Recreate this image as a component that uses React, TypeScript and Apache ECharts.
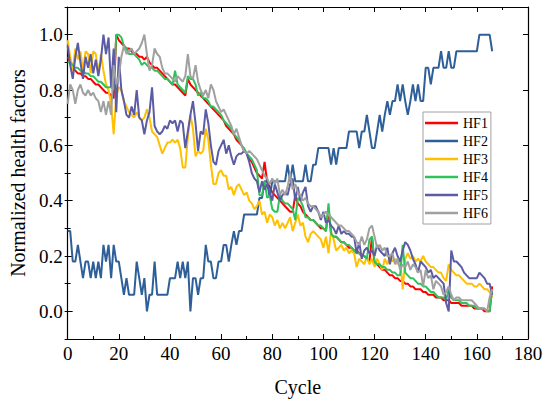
import React, { useEffect, useRef } from "react";
import * as echarts from "echarts";

// Normalized health factors, one value per cycle (cycle = index, 0..166)
const HF1 = [
  0.92, 0.90, 0.88, 0.87, 0.86, 0.86, 0.85, 0.85, 0.84, 0.84,
  0.83, 0.82, 0.82, 0.81, 0.80, 0.79, 0.79, 0.78, 0.77, 1.00,
  0.98, 0.97, 0.96, 0.95, 0.95, 0.94, 0.93, 0.93, 0.92, 0.92,
  0.91, 0.92, 0.90, 0.89, 0.88, 0.88, 0.87, 0.86, 0.85, 0.84,
  0.83, 0.82, 0.82, 0.81, 0.80, 0.79, 0.78, 0.84, 0.82, 0.81,
  0.80, 0.79, 0.78, 0.77, 0.76, 0.75, 0.74, 0.73, 0.72, 0.71,
  0.70, 0.69, 0.67, 0.66, 0.65, 0.64, 0.62, 0.61, 0.60, 0.58,
  0.57, 0.55, 0.54, 0.52, 0.50, 0.49, 0.48, 0.54, 0.47, 0.45,
  0.43, 0.42, 0.41, 0.40, 0.39, 0.38, 0.37, 0.36, 0.36, 0.42,
  0.39, 0.38, 0.36, 0.35, 0.34, 0.33, 0.33, 0.32, 0.31, 0.30,
  0.30, 0.29, 0.37, 0.28, 0.27, 0.27, 0.26, 0.25, 0.25, 0.24,
  0.23, 0.23, 0.22, 0.22, 0.21, 0.20, 0.20, 0.19, 0.18, 0.27,
  0.17, 0.17, 0.16, 0.15, 0.15, 0.14, 0.13, 0.13, 0.12, 0.12,
  0.11, 0.11, 0.10, 0.10, 0.09, 0.09, 0.08, 0.08, 0.08, 0.07,
  0.07, 0.06, 0.06, 0.06, 0.05, 0.05, 0.05, 0.04, 0.04, 0.04,
  0.03, 0.03, 0.03, 0.03, 0.02, 0.02, 0.02, 0.02, 0.02, 0.01,
  0.01, 0.01, 0.01, 0.00, 0.00, 0.00, 0.09,
];

const HF2 = [
  0.29, 0.29, 0.18, 0.18, 0.24, 0.18, 0.12, 0.18, 0.18, 0.12,
  0.18, 0.12, 0.18, 0.12, 0.24, 0.18, 0.24, 0.12, 0.24, 0.18,
  0.18, 0.12, 0.06, 0.12, 0.06, 0.06, 0.06, 0.18, 0.12, 0.06,
  0.12, 0.00, 0.06, 0.06, 0.18, 0.06, 0.06, 0.06, 0.06, 0.06,
  0.12, 0.12, 0.12, 0.18, 0.12, 0.18, 0.12, 0.18, 0.00, 0.12,
  0.12, 0.06, 0.12, 0.12, 0.24, 0.18, 0.18, 0.12, 0.12, 0.18,
  0.18, 0.24, 0.24, 0.18, 0.24, 0.29, 0.24, 0.29, 0.29, 0.35,
  0.35, 0.35, 0.35, 0.35, 0.35, 0.41, 0.41, 0.47, 0.47, 0.41,
  0.47, 0.47, 0.47, 0.47, 0.47, 0.47, 0.53, 0.47, 0.53, 0.47,
  0.47, 0.47, 0.47, 0.53, 0.47, 0.47, 0.53, 0.53, 0.59, 0.59,
  0.59, 0.59, 0.59, 0.53, 0.59, 0.53, 0.59, 0.59, 0.59, 0.59,
  0.65, 0.65, 0.65, 0.65, 0.59, 0.65, 0.65, 0.71, 0.65, 0.59,
  0.59, 0.65, 0.71, 0.65, 0.71, 0.76, 0.71, 0.76, 0.76, 0.82,
  0.76, 0.82, 0.76, 0.71, 0.76, 0.82, 0.76, 0.82, 0.76, 0.76,
  0.88, 0.88, 0.82, 0.88, 0.88, 0.88, 0.94, 0.88, 0.88, 0.94,
  0.88, 0.88, 0.94, 0.94, 0.94, 0.94, 0.94, 0.94, 0.94, 0.94,
  0.94, 1.00, 1.00, 1.00, 1.00, 1.00, 0.94,
];

const HF3 = [
  0.98, 0.92, 0.87, 0.95, 0.91, 0.94, 0.87, 0.94, 0.93, 0.86,
  0.94, 0.93, 0.86, 0.93, 0.87, 0.82, 0.80, 0.75, 0.64, 0.78,
  0.81, 0.80, 0.76, 0.74, 0.72, 0.71, 0.70, 0.72, 0.70, 0.69,
  0.70, 0.73, 0.70, 0.65, 0.64, 0.63, 0.60, 0.57, 0.59, 0.61,
  0.61, 0.62, 0.61, 0.62, 0.59, 0.52, 0.52, 0.63, 0.71, 0.66,
  0.56, 0.58, 0.57, 0.58, 0.66, 0.62, 0.53, 0.46, 0.46, 0.50,
  0.51, 0.49, 0.49, 0.44, 0.45, 0.42, 0.45, 0.46, 0.44, 0.42,
  0.43, 0.40, 0.39, 0.37, 0.38, 0.40, 0.35, 0.36, 0.32, 0.35,
  0.34, 0.31, 0.33, 0.30, 0.32, 0.30, 0.32, 0.34, 0.29, 0.32,
  0.35, 0.31, 0.32, 0.27, 0.25, 0.28, 0.29, 0.28, 0.27, 0.26,
  0.23, 0.27, 0.21, 0.29, 0.26, 0.22, 0.23, 0.24, 0.22, 0.23,
  0.21, 0.22, 0.21, 0.16, 0.19, 0.18, 0.17, 0.20, 0.17, 0.19,
  0.16, 0.19, 0.17, 0.15, 0.19, 0.17, 0.20, 0.18, 0.19, 0.17,
  0.19, 0.08, 0.19, 0.21, 0.19, 0.20, 0.18, 0.19, 0.18, 0.20,
  0.18, 0.17, 0.16, 0.16, 0.15, 0.14, 0.14, 0.12, 0.11, 0.17,
  0.15, 0.14, 0.13, 0.13, 0.12, 0.11, 0.10, 0.10, 0.10, 0.09,
  0.09, 0.10, 0.09, 0.08, 0.08, 0.07, 0.05,
];

const HF4 = [
  0.90, 0.90, 0.89, 0.88, 0.88, 0.87, 0.87, 0.86, 0.86, 0.85,
  0.85, 0.84, 0.83, 0.83, 0.82, 0.81, 0.81, 0.81, 0.80, 1.00,
  1.00, 0.99, 0.96, 0.95, 0.93, 0.93, 0.93, 0.92, 0.91, 0.89,
  0.90, 0.89, 0.88, 0.88, 0.87, 0.87, 0.86, 0.85, 0.84, 0.84,
  0.83, 0.82, 0.87, 0.82, 0.81, 0.80, 0.79, 0.85, 0.84, 0.84,
  0.82, 0.78, 0.79, 0.77, 0.77, 0.76, 0.74, 0.74, 0.73, 0.72,
  0.71, 0.69, 0.68, 0.67, 0.66, 0.64, 0.63, 0.62, 0.60, 0.59,
  0.57, 0.56, 0.55, 0.53, 0.51, 0.42, 0.42, 0.47, 0.41, 0.42,
  0.37, 0.36, 0.36, 0.42, 0.40, 0.39, 0.39, 0.38, 0.37, 0.33,
  0.41, 0.40, 0.38, 0.34, 0.34, 0.33, 0.33, 0.32, 0.31, 0.31,
  0.30, 0.29, 0.39, 0.28, 0.27, 0.27, 0.26, 0.25, 0.25, 0.24,
  0.24, 0.23, 0.22, 0.21, 0.21, 0.20, 0.20, 0.19, 0.26, 0.27,
  0.18, 0.17, 0.17, 0.16, 0.16, 0.15, 0.15, 0.14, 0.14, 0.13,
  0.13, 0.24, 0.14, 0.13, 0.12, 0.12, 0.11, 0.10, 0.10, 0.09,
  0.09, 0.08, 0.07, 0.07, 0.06, 0.05, 0.05, 0.05, 0.04, 0.08,
  0.05, 0.04, 0.04, 0.04, 0.03, 0.03, 0.03, 0.02, 0.02, 0.02,
  0.01, 0.01, 0.01, 0.01, 0.00, 0.00, 0.08,
];

const HF5 = [
  0.96, 0.89, 0.84, 0.92, 0.97, 0.90, 0.84, 0.92, 0.88, 0.93,
  0.86, 0.91, 0.85, 0.91, 1.00, 0.93, 0.99, 0.81, 0.95, 0.72,
  0.92, 0.80, 0.76, 0.71, 0.70, 0.74, 0.71, 0.80, 0.70, 0.69,
  0.64, 0.69, 0.72, 0.81, 0.67, 0.65, 0.64, 0.65, 0.67, 0.66,
  0.69, 0.68, 0.69, 0.65, 0.69, 0.68, 0.59, 0.65, 0.71, 0.76,
  0.68, 0.58, 0.65, 0.64, 0.73, 0.68, 0.60, 0.54, 0.53, 0.58,
  0.60, 0.62, 0.57, 0.60, 0.56, 0.53, 0.56, 0.57, 0.57, 0.58,
  0.57, 0.54, 0.50, 0.48, 0.47, 0.43, 0.47, 0.44, 0.46, 0.43,
  0.40, 0.46, 0.43, 0.40, 0.42, 0.43, 0.42, 0.46, 0.48, 0.40,
  0.45, 0.40, 0.43, 0.45, 0.38, 0.36, 0.38, 0.38, 0.36, 0.33,
  0.36, 0.32, 0.33, 0.31, 0.30, 0.28, 0.31, 0.28, 0.29, 0.28,
  0.28, 0.27, 0.27, 0.21, 0.25, 0.19, 0.22, 0.23, 0.21, 0.22,
  0.20, 0.24, 0.22, 0.21, 0.20, 0.23, 0.17, 0.21, 0.23, 0.20,
  0.18, 0.22, 0.25, 0.24, 0.22, 0.19, 0.17, 0.14, 0.18, 0.17,
  0.16, 0.14, 0.15, 0.12, 0.13, 0.12, 0.11, 0.10, 0.03, 0.00,
  0.22, 0.18, 0.18, 0.17, 0.16, 0.14, 0.13, 0.12, 0.12, 0.12,
  0.12, 0.14, 0.13, 0.12, 0.10, 0.10, 0.06,
];

const HF6 = [
  0.75, 0.82, 0.80, 0.75, 0.80, 0.82, 0.79, 0.78, 0.80, 0.78,
  0.79, 0.77, 0.76, 0.72, 0.76, 0.71, 0.76, 0.71, 0.89, 0.82,
  0.85, 0.92, 0.96, 0.93, 0.94, 0.95, 0.93, 0.94, 0.95, 0.97,
  1.00, 0.93, 0.87, 0.89, 0.95, 0.93, 0.92, 0.88, 0.86, 0.86,
  0.85, 0.84, 0.83, 0.85, 0.84, 0.83, 0.85, 0.93, 0.85, 0.84,
  0.89, 0.83, 0.80, 0.78, 0.80, 0.77, 0.82, 0.80, 0.76, 0.74,
  0.72, 0.73, 0.71, 0.69, 0.67, 0.64, 0.66, 0.63, 0.60, 0.58,
  0.57, 0.58, 0.57, 0.56, 0.55, 0.53, 0.51, 0.49, 0.48, 0.46,
  0.48, 0.46, 0.48, 0.42, 0.44, 0.42, 0.45, 0.50, 0.44, 0.46,
  0.43, 0.42, 0.40, 0.41, 0.39, 0.38, 0.38, 0.37, 0.36, 0.34,
  0.35, 0.36, 0.35, 0.34, 0.33, 0.32, 0.31, 0.31, 0.30, 0.29,
  0.29, 0.28, 0.27, 0.25, 0.24, 0.27, 0.24, 0.26, 0.30, 0.31,
  0.27, 0.23, 0.24, 0.22, 0.23, 0.20, 0.20, 0.21, 0.17, 0.19,
  0.15, 0.17, 0.16, 0.18, 0.15, 0.17, 0.16, 0.14, 0.15, 0.09,
  0.15, 0.12, 0.13, 0.08, 0.11, 0.10, 0.09, 0.06, 0.07, 0.09,
  0.06, 0.04, 0.05, 0.05, 0.04, 0.04, 0.04, 0.04, 0.04, 0.03,
  0.02, 0.01, 0.01, 0.01, 0.00, 0.05, 0.08,
];

const SERIES_NAMES = ["HF1", "HF2", "HF3", "HF4", "HF5", "HF6"];
const SERIES_VALUES = [HF1, HF2, HF3, HF4, HF5, HF6];
const SERIES_COLORS = ["#ff0000", "#2f5f98", "#ffc000", "#2fc25b", "#5b5ca3", "#a0a0a0"];

const X_TITLE = "Cycle";
const Y_TITLE = "Normalized health factors";

export default function App() {
  const ref = useRef<HTMLDivElement>(null);

  useEffect(() => {
    document.body.style.margin = "0";
    if (!ref.current) return;
    const chart = echarts.init(ref.current, null, { renderer: "svg" });
    const font = "Liberation Serif";
    const black = "#000";
    const axisLine = { show: true, onZero: false, lineStyle: { color: black, width: 1.2 } };
    const majorTick = { show: true, inside: true, length: 5, lineStyle: { color: black, width: 1 } };
    const minorTickY = { show: true, inside: true, length: 3, lineStyle: { color: black, width: 1 } };
    const minorTick = { show: true, splitNumber: 2, length: 3, lineStyle: { color: black, width: 1 } };

    const yFormatter = (v: number) => (v < -0.05 || v > 1.05 ? "" : v.toFixed(1));

    const option = {
      animation: false,
      backgroundColor: "#fff",
      grid: { left: 57, right: 22, top: 7, bottom: 62, containLabel: false },
      legend: {
        orient: "vertical",
        left: 423,
        top: 112,
        icon: "rect",
        itemWidth: 33,
        itemHeight: 2.5,
        itemGap: 4,
        padding: [4, 3, 4, 2],
        borderColor: "#a0a0a0",
        borderWidth: 1,
        borderRadius: 0,
        backgroundColor: "#fff",
        textStyle: { fontFamily: font, fontSize: 14, color: black },
        data: SERIES_NAMES,
      },
      xAxis: [
        {
          type: "value",
          position: "bottom",
          min: 0,
          max: 180,
          interval: 20,
          name: X_TITLE,
          nameLocation: "middle",
          nameGap: 38,
          nameTextStyle: { fontFamily: font, fontSize: 20, color: black },
          axisLine,
          axisTick: majorTick,
          minorTick,
          axisLabel: { fontFamily: font, fontSize: 19, color: black, margin: 5 },
          splitLine: { show: false },
        },
        {
          type: "value",
          position: "top",
          min: 0,
          max: 180,
          interval: 20,
          axisLine,
          axisTick: majorTick,
          minorTick,
          axisLabel: { show: false },
          splitLine: { show: false },
        },
      ],
      yAxis: [
        {
          type: "value",
          position: "left",
          min: -0.1,
          max: 1.1,
          name: Y_TITLE,
          nameLocation: "middle",
          nameGap: 25,
          nameTextStyle: { fontFamily: font, fontSize: 20, color: black },
          axisLine,
          axisTick: majorTick,
          axisLabel: { fontFamily: font, fontSize: 19, color: black, margin: 5, formatter: yFormatter },
          splitLine: { show: false },
        },
        {
          type: "value",
          position: "left",
          min: -0.1,
          max: 1.1,
          interval: 0.1,
          axisLine: { show: false },
          axisTick: minorTickY,
          axisLabel: { show: false },
          splitLine: { show: false },
        },
        {
          type: "value",
          position: "right",
          min: -0.1,
          max: 1.1,
          axisLine,
          axisTick: majorTick,
          axisLabel: { show: false },
          splitLine: { show: false },
        },
        {
          type: "value",
          position: "right",
          min: -0.1,
          max: 1.1,
          interval: 0.1,
          axisLine: { show: false },
          axisTick: minorTickY,
          axisLabel: { show: false },
          splitLine: { show: false },
        },
      ],
      series: SERIES_NAMES.map((name, k) => ({
        name,
        type: "line",
        xAxisIndex: 0,
        yAxisIndex: 0,
        showSymbol: false,
        symbol: "none",
        color: SERIES_COLORS[k],
        lineStyle: { color: SERIES_COLORS[k], width: 2 },
        data: SERIES_VALUES[k].map((v, i) => [i, v]),
      })),
    };

    chart.setOption(option as any);
    return () => chart.dispose();
  }, []);

  return <div ref={ref} style={{ width: 550, height: 402 }} />;
}
